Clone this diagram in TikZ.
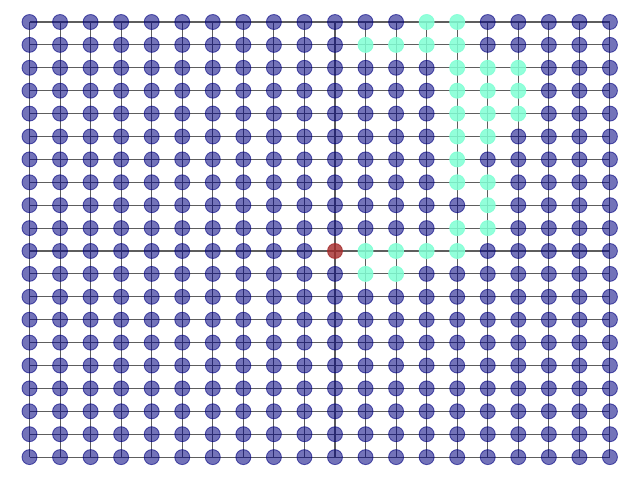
\documentclass[tikz,border=0pt]{standalone}
\usetikzlibrary{backgrounds}
\definecolor{gridnode}{HTML}{000080}
\definecolor{pathnode}{HTML}{7FFFD4}
\definecolor{startnode}{HTML}{A52A2A}
\definecolor{gridedge}{HTML}{5E5E5E}
\tikzset{
  vertex/.style={circle, minimum size=3mm, inner sep=0pt, line width=0.5pt,
                 draw=gridnode, fill=gridnode, fill opacity=0.55, draw opacity=0.6},
  pathvertex/.style={draw=pathnode, fill=pathnode, fill opacity=0.85, draw opacity=0.85},
  startvertex/.style={draw=startnode, fill=startnode, fill opacity=0.8, draw opacity=0.8},
  link/.style={gridedge, line width=0.6pt},
  % cells of the found path
  c-13-0/.style={pathvertex}, c-14-0/.style={pathvertex},
  c-11-1/.style={pathvertex}, c-12-1/.style={pathvertex},
  c-13-1/.style={pathvertex}, c-14-1/.style={pathvertex},
  c-14-2/.style={pathvertex}, c-15-2/.style={pathvertex}, c-16-2/.style={pathvertex},
  c-14-3/.style={pathvertex}, c-15-3/.style={pathvertex}, c-16-3/.style={pathvertex},
  c-14-4/.style={pathvertex}, c-15-4/.style={pathvertex}, c-16-4/.style={pathvertex},
  c-14-5/.style={pathvertex}, c-15-5/.style={pathvertex},
  c-14-6/.style={pathvertex},
  c-14-7/.style={pathvertex}, c-15-7/.style={pathvertex},
  c-15-8/.style={pathvertex},
  c-14-9/.style={pathvertex}, c-15-9/.style={pathvertex},
  c-11-10/.style={pathvertex}, c-12-10/.style={pathvertex},
  c-13-10/.style={pathvertex}, c-14-10/.style={pathvertex},
  c-11-11/.style={pathvertex}, c-12-11/.style={pathvertex},
  c-10-10/.style={startvertex},
}

\begin{document}
\begin{tikzpicture}[x=0.02cm, y=-0.02cm]
    \useasboundingbox (0,0) rectangle (640,480);
    \foreach \i in {0,...,19}
      \foreach \j in {0,...,19}
        \node[vertex, c-\i-\j/.try] (n-\i-\j) at ({29.5+30.55*\i}, {22+22.9*\j}) {};
    \begin{scope}[on background layer]
      \foreach \i in {0,...,18} {
        \pgfmathtruncatemacro{\k}{\i+1}
        \foreach \j in {0,...,19} {
          \draw[link] (n-\i-\j.center) -- (n-\k-\j.center);
          \draw[link] (n-\j-\i.center) -- (n-\j-\k.center);
        }
      }
    \end{scope}
\end{tikzpicture}
\end{document}
